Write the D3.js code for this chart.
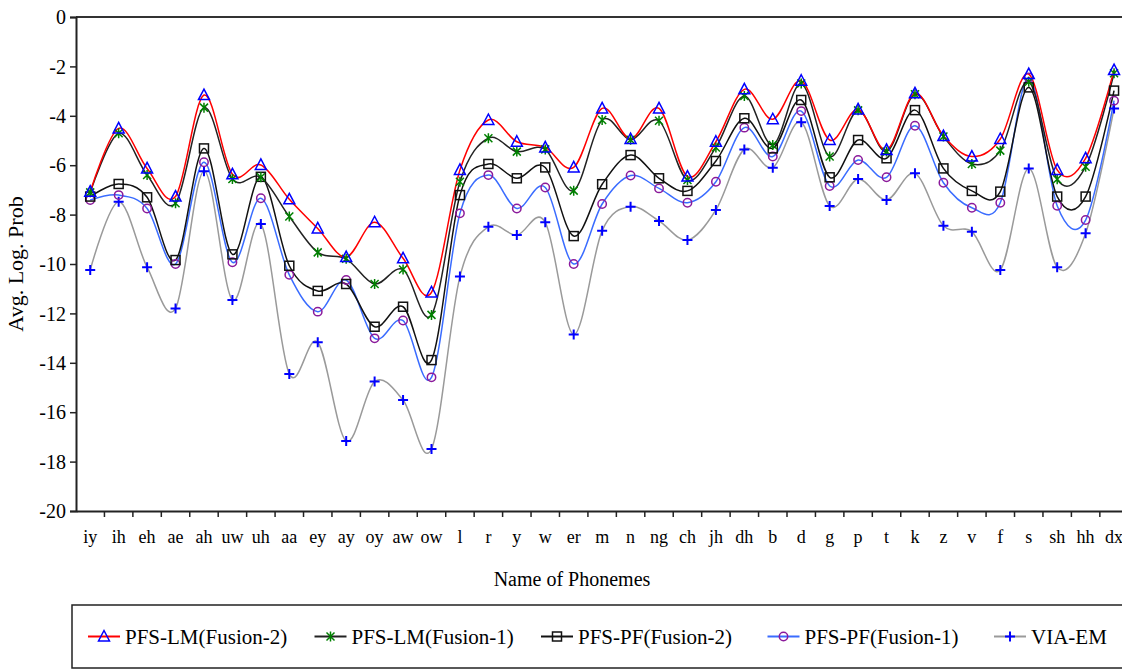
<!DOCTYPE html>
<html>
<head>
<meta charset="utf-8">
<script src="https://cdn.jsdelivr.net/npm/d3@7"></script>
<style>
  html, body { margin: 0; padding: 0; background: #fff; }
  svg { display: block; }
  text { font-family: "Liberation Serif", "Times New Roman", serif; fill: #000; }
</style>
</head>
<body>
<svg id="chart" width="1122" height="671"></svg>
<script>
const categories = ["iy","ih","eh","ae","ah","uw","uh","aa","ey","ay","oy","aw","ow","l","r","y","w","er","m","n","ng","ch","jh","dh","b","d","g","p","t","k","z","v","f","s","sh","hh","dx"];

const lmFusion2 = [-7.07,-4.51,-6.13,-7.27,-3.16,-6.37,-5.99,-7.38,-8.56,-9.72,-8.31,-9.77,-11.15,-6.19,-4.17,-5.05,-5.28,-6.09,-3.70,-4.94,-3.70,-6.46,-5.05,-2.93,-4.14,-2.58,-4.98,-3.74,-5.38,-3.09,-4.82,-5.65,-4.94,-2.31,-6.19,-5.72,-2.15];
const lmFusion1 = [-7.10,-4.71,-6.40,-7.54,-3.67,-6.56,-6.49,-8.08,-9.53,-9.79,-10.81,-10.22,-12.06,-6.67,-4.91,-5.45,-5.36,-7.03,-4.17,-4.97,-4.20,-6.60,-5.28,-3.20,-5.18,-2.69,-5.65,-3.78,-5.45,-3.13,-4.84,-5.95,-5.41,-2.62,-6.57,-6.06,-2.28];
const pfFusion2 = [-7.27,-6.76,-7.30,-9.84,-5.32,-9.61,-6.47,-10.07,-11.09,-10.81,-12.54,-11.73,-13.89,-7.21,-5.95,-6.53,-6.09,-8.87,-6.77,-5.59,-6.53,-7.04,-5.83,-4.10,-5.32,-3.36,-6.49,-4.98,-5.72,-3.77,-6.13,-7.04,-7.07,-2.85,-7.27,-7.27,-2.98];
const pfFusion1 = [-7.41,-7.21,-7.75,-10.00,-5.88,-9.93,-7.34,-10.44,-11.93,-10.65,-13.01,-12.29,-14.59,-7.95,-6.40,-7.75,-6.90,-10.00,-7.57,-6.42,-6.94,-7.52,-6.67,-4.48,-5.65,-3.81,-6.84,-5.79,-6.49,-4.40,-6.71,-7.72,-7.52,-2.45,-7.64,-8.22,-3.39];
const viaEM = [-10.24,-7.48,-10.13,-11.80,-6.24,-11.46,-8.38,-14.45,-13.17,-17.17,-14.76,-15.51,-17.49,-10.51,-8.49,-8.83,-8.31,-12.85,-8.65,-7.68,-8.26,-9.03,-7.81,-5.36,-6.10,-4.26,-7.65,-6.56,-7.41,-6.33,-8.45,-8.69,-10.24,-6.13,-10.13,-8.76,-3.70];

const seriesNames = ["PFS-LM(Fusion-2)","PFS-LM(Fusion-1)","PFS-PF(Fusion-2)","PFS-PF(Fusion-1)","VIA-EM"];
const yTicks = [0,-2,-4,-6,-8,-10,-12,-14,-16,-18,-20];
const xTitle = "Name of Phonemes";
const yTitle = "Avg. Log. Prob";

const series = [
  {name: seriesNames[0], values: lmFusion2, line: "#ff0000", marker: "triangle", mcolor: "#0000ff"},
  {name: seriesNames[1], values: lmFusion1, line: "#222222", marker: "star", mcolor: "#008000"},
  {name: seriesNames[2], values: pfFusion2, line: "#111111", marker: "square", mcolor: "#111111"},
  {name: seriesNames[3], values: pfFusion1, line: "#3a6cff", marker: "circle", mcolor: "#8b1a9b"},
  {name: seriesNames[4], values: viaEM, line: "#9a9a9a", marker: "plus", mcolor: "#0000ff"}
];

const svg = d3.select("#chart");
const plotLeft = 76, plotTop = 17, plotBottom = 511;
const bandW = 28.44;
const plotRight = plotLeft + bandW * categories.length;

const x = d3.scaleBand().domain(categories).range([plotLeft, plotRight]).padding(0);
const y = d3.scaleLinear().domain([-20, 0]).range([plotBottom, plotTop]);

// Plot frame
svg.append("line").attr("x1", plotLeft).attr("x2", plotRight).attr("y1", plotTop).attr("y2", plotTop)
  .attr("stroke", "#333").attr("stroke-width", 2);

// Y axis
const yAxis = d3.axisLeft(y).tickValues(yTicks).tickSize(6).tickFormat(d => String(d));
const gy = svg.append("g").attr("transform", `translate(${plotLeft},0)`).call(yAxis);
gy.attr("font-family", null);
gy.select(".domain").attr("stroke", "#222").attr("stroke-width", 2);
gy.selectAll(".tick line").attr("stroke", "#222").attr("stroke-width", 1.5);
gy.selectAll(".tick text").attr("font-size", 20).attr("x", -10).attr("dy", "0.33em");

// X axis
const xAxis = d3.axisBottom(x).tickSize(0).tickPadding(0);
const gx = svg.append("g").attr("transform", `translate(0,${plotBottom})`).call(xAxis);
gx.attr("font-family", null);
gx.select(".domain").attr("stroke", "#222").attr("stroke-width", 2);
gx.selectAll(".tick text").attr("font-size", 18).attr("y", 32).attr("dy", 0);
// boundary ticks
const bounds = categories.map(c => x(c)).concat([plotRight]);
svg.append("g").selectAll("line").data(bounds.slice(1)).join("line")
  .attr("x1", d => d).attr("x2", d => d).attr("y1", plotBottom).attr("y2", plotBottom + 6)
  .attr("stroke", "#222").attr("stroke-width", 1.5);

// Titles
svg.append("text").attr("x", 572).attr("y", 586).attr("text-anchor", "middle")
  .attr("font-size", 20).text(xTitle);
svg.append("text").attr("transform", `translate(23,${(plotTop + plotBottom) / 2}) rotate(-90)`).attr("text-anchor", "middle")
  .attr("font-size", 22).text(yTitle);

// markers
function drawMarker(g, type, color, cx, cy) {
  if (type === "triangle") {
    g.append("path").attr("d", `M${cx},${cy-6}L${cx+5.5},${cy+4.5}L${cx-5.5},${cy+4.5}Z`)
      .attr("fill", "none").attr("stroke", color).attr("stroke-width", 1.5);
  } else if (type === "star") {
    const s = 4;
    g.append("path").attr("d", `M${cx-s},${cy-s}L${cx+s},${cy+s}M${cx-s},${cy+s}L${cx+s},${cy-s}M${cx},${cy-s-1}L${cx},${cy+s+1}`)
      .attr("stroke", color).attr("stroke-width", 1.5).attr("fill", "none");
  } else if (type === "square") {
    g.append("rect").attr("x", cx - 4.5).attr("y", cy - 4.5).attr("width", 9).attr("height", 9)
      .attr("fill", "none").attr("stroke", color).attr("stroke-width", 1.5);
  } else if (type === "circle") {
    g.append("circle").attr("cx", cx).attr("cy", cy).attr("r", 4.2)
      .attr("fill", "none").attr("stroke", color).attr("stroke-width", 1.5);
  } else if (type === "plus") {
    const s = 5;
    g.append("path").attr("d", `M${cx-s},${cy}L${cx+s},${cy}M${cx},${cy-s}L${cx},${cy+s}`)
      .attr("stroke", color).attr("stroke-width", 2).attr("fill", "none");
  }
}

const line = d3.line()
  .x((d, i) => x(categories[i]) + x.bandwidth() / 2)
  .y(d => y(d))
  .curve(d3.curveCardinal.tension(0));

const plot = svg.append("g");
series.slice().reverse().forEach(s => {
  const g = plot.append("g");
  g.append("path").datum(s.values).attr("d", line).attr("fill", "none")
    .attr("stroke", s.line).attr("stroke-width", 1.5);
});
series.slice().reverse().forEach(s => {
  const g = plot.append("g");
  s.values.forEach((v, i) => drawMarker(g, s.marker, s.mcolor, x(categories[i]) + x.bandwidth() / 2, y(v)));
});

// Legend
const legTop = 605, legH = 63, legLeft = 72;
svg.append("rect").attr("x", legLeft).attr("y", legTop).attr("width", 1122 - legLeft + 20).attr("height", legH)
  .attr("fill", "#fff").attr("stroke", "#222").attr("stroke-width", 1.5);
const legendX = d3.scalePoint().domain(seriesNames).range([88, 994]);
const legY = legTop + legH / 2;
series.forEach(s => {
  const lx = legendX(s.name);
  const g = svg.append("g");
  g.append("line").attr("x1", lx).attr("x2", lx + 32).attr("y1", legY).attr("y2", legY)
    .attr("stroke", s.line).attr("stroke-width", 2);
  drawMarker(g, s.marker, s.mcolor, lx + 16, legY);
  g.append("text").attr("x", lx + 37).attr("y", legY).attr("dy", "0.35em").attr("font-size", 21).text(s.name);
});
</script>
</body>
</html>
